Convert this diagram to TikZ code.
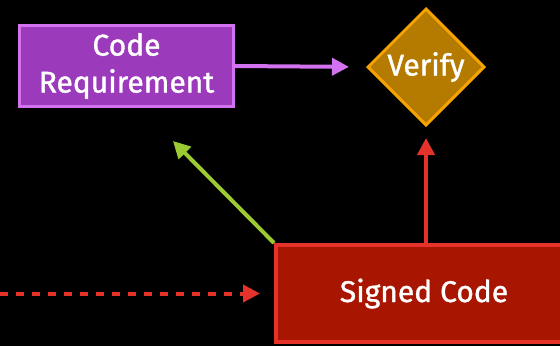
\documentclass[tikz,border=0pt]{standalone}
\usepackage{fontspec}
\setmainfont{Fira Sans}[FakeBold=1.2]
\usetikzlibrary{shapes.geometric,arrows.meta,positioning}

\definecolor{reqfill}{HTML}{9B3ABB}
\definecolor{reqline}{HTML}{D272EE}
\definecolor{verfill}{HTML}{B57A00}
\definecolor{verline}{HTML}{F5A300}
\definecolor{sigfill}{HTML}{A81500}
\definecolor{sigline}{HTML}{E5322A}
\definecolor{grn}{HTML}{9BCB30}

\begin{document}
\begin{tikzpicture}[x=1pt,y=-1pt,
    every node/.style={text=white,font=\fontsize{30}{37}\selectfont},
    box/.style={rectangle,inner sep=0pt,align=center},
    req/.style={box,fill=reqfill,draw=reqline,line width=3pt,minimum width=214pt,minimum height=81pt},
    check/.style={diamond,aspect=1,inner sep=0pt,fill=verfill,draw=verline,line width=3pt,minimum width=117pt,minimum height=117pt},
    signed/.style={box,fill=sigfill,draw=sigline,line width=4pt,minimum width=296pt,minimum height=97pt},
    arr/.style={line width=4pt,-{Triangle[length=17pt,width=17pt]}}]
  \useasboundingbox[fill=black] (0,0) rectangle (560,346);
  \clip (0,0) rectangle (560,346);
  \node[req] (req) at (126.5,66) {Code\\Requirement};
  \node[check] (verify) at (426,67) {Verify};
  \node[signed] (sig) at (424,293.5) {Signed Code};
  \coordinate (src) at (0,293.5);
  \coordinate (gtip) at (173,141);

  \draw[arr,reqline,shorten >=17pt] (req.east) -- (verify.west);
  \draw[arr,sigline,shorten >=11pt] (verify.south |- sig.north) -- (verify.south);
  \draw[arr,grn] (sig.north west) -- (gtip);
  \draw[arr,sigline,dash pattern=on 8pt off 8pt,shorten >=14pt] (src) -- (sig.west);
\end{tikzpicture}
\end{document}
